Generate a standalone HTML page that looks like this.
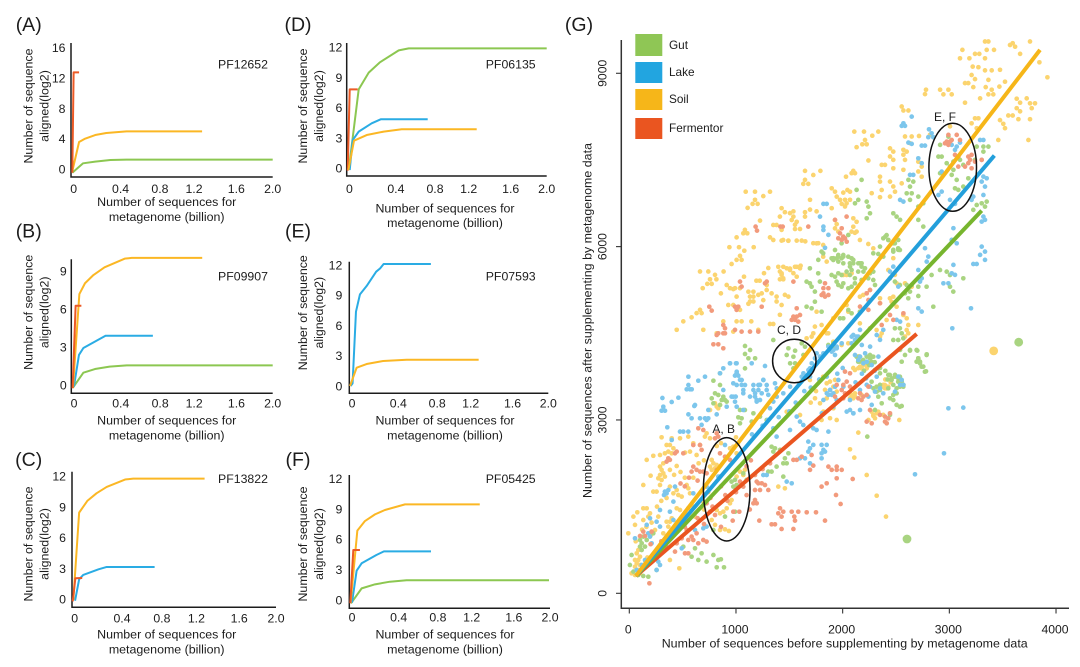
<!DOCTYPE html>
<html lang="en">
<head>
<meta charset="utf-8">
<title>Rarefaction curves and supplementing scatter</title>
<style>
html,body{margin:0;padding:0;background:#fff;width:1080px;height:667px;overflow:hidden}
svg{display:block;font-family:"Liberation Sans",sans-serif;fill:#222;filter:blur(.35px)}
text{fill:#1c1c1c}
</style>
</head>
<body>
<svg id="figure" xmlns="http://www.w3.org/2000/svg" width="1080" height="667" viewBox="0 0 1080 667">
  <rect width="1080" height="667" fill="#fff"/>
  <g id="panels"></g>
  <g id="scatter">
    <text x="579" y="31" font-size="19.5" text-anchor="middle">(G)</text>
    <g id="scatter-points"></g>
    <g id="fit-lines"></g>
    <g id="scatter-axes"></g>
    <ellipse cx="952.7" cy="167.3" rx="23.8" ry="44" fill="none" stroke="#111" stroke-width="1.5"/>
    <ellipse cx="794.3" cy="361" rx="21.7" ry="21.7" fill="none" stroke="#111" stroke-width="1.5"/>
    <ellipse cx="726.7" cy="489.3" rx="23.3" ry="51.7" fill="none" stroke="#111" stroke-width="1.5"/>
    <text x="945" y="121" font-size="12" text-anchor="middle">E, F</text>
    <text x="789" y="334" font-size="12" text-anchor="middle">C, D</text>
    <text x="723.7" y="433" font-size="12" text-anchor="middle">A, B</text>
    <text x="844.7" y="647.5" font-size="12.4" text-anchor="middle" textLength="366">Number of sequences before supplementing by metagenome data</text>
    <text transform="translate(591.5,320.5) rotate(-90)" font-size="12.4" text-anchor="middle" textLength="355">Number of sequences after supplementing by metagenome data</text>
    <g>
      <g>
        <rect x="635.3" y="34" width="27" height="22" fill="#8fc655"/>
        <text x="669" y="49" font-size="11.8">Gut</text>
      </g>
      <g>
        <rect x="635.3" y="62" width="27" height="21" fill="#22a5e0"/>
        <text x="669" y="76" font-size="11.8">Lake</text>
      </g>
      <g>
        <rect x="635.3" y="89" width="27" height="21" fill="#f6b619"/>
        <text x="669" y="103" font-size="11.8">Soil</text>
      </g>
      <g>
        <rect x="635.3" y="118" width="27" height="21" fill="#ea5520"/>
        <text x="669" y="132" font-size="11.8">Fermentor</text>
      </g>
    </g>
  </g>
</svg>
<script>
// ---------- rarefaction curve data: [billion sequences, log2 aligned] ----------
const xTickValues=[0,0.4,0.8,1.2,1.6,2.0];
const xTickLabels=['0','0.4','0.8','1.2','1.6','2.0'];
const yTicksA=[0,4,8,12,16];
const yTicksBase=[0,3,6,9,12];
const yTicksB=[0,3,6,9];

const fermentorA=[[.013,-.5],[.026,12.75],[.08,12.75]];
const soilA=[[.013,-.3],[.08,3.56],[.14,4.0],[.24,4.48],[.35,4.75],[.55,4.97],[1.3,4.97]];
const gutA=[[.013,-.5],[.12,.75],[.24,.97],[.39,1.19],[.55,1.23],[2.0,1.23]];

const fermentorB=[[.013,-.26],[.043,6.26],[.1,6.26]];
const soilB=[[.017,-.13],[.08,7.18],[.136,8.03],[.22,8.68],[.33,9.29],[.53,9.97],[.6,10.03],[1.3,10.03]];
const lakeB=[[.026,-.13],[.076,2.37],[.12,2.92],[.27,3.58],[.34,3.89],[.81,3.89]];
const gutB=[[.017,-.2],[.12,.97],[.235,1.26],[.38,1.45],[.55,1.55],[2.0,1.55]];

const soilC=[[.013,-.06],[.07,8.44],[.15,9.58],[.24,10.32],[.34,10.94],[.52,11.66],[.6,11.75],[1.3,11.75]];
const lakeC=[[.03,-.13],[.07,1.95],[.11,2.37],[.26,2.92],[.34,3.15],[.81,3.15]];
const fermentorC=[[.007,-.2],[.033,2.05],[.1,2.08]];

const fermentorD=[[.01,-.23],[.03,7.83],[.11,7.83]];
const gutD=[[.02,-.17],[.12,7.83],[.22,9.49],[.33,10.5],[.52,11.7],[.62,11.9],[2.0,11.9]];
const lakeD=[[.03,-.17],[.06,2.8],[.12,3.64],[.25,4.46],[.34,4.86],[.81,4.86]];
const soilD=[[.017,-.17],[.073,2.74],[.2,3.3],[.37,3.64],[.55,3.87],[1.3,3.87]];

const lakeE=[[.013,0],[.033,.26],[.067,7.37],[.107,9.09],[.174,9.92],[.27,11.34],[.31,11.67],[.345,12.1],[.82,12.1]];
const soilE=[[.007,0],[.074,1.82],[.174,2.18],[.34,2.48],[.576,2.61],[1.3,2.61]];

const soilF=[[.013,-.26],[.08,6.86],[.156,7.81],[.256,8.47],[.355,8.9],[.555,9.46],[1.3,9.46]];
const fermentorF=[[.01,-.33],[.04,4.95],[.106,4.95]];
const lakeF=[[.027,-.26],[.073,2.9],[.123,3.63],[.27,4.45],[.345,4.81],[.814,4.81]];
const gutF=[[.017,-.33],[.123,1.15],[.256,1.55],[.405,1.81],[.57,1.95],[1.99,1.95]];

// ---------- scatter data: [before, after] ----------
const scatterXTicks=[0,1000,2000,3000,4000];
const scatterYTicks=[0,3000,6000,9000];
const fitSoil=[[62,300],[3850,9405]];
const fitLake=[[62,300],[3422,7576]];
const fitGut=[[62,300],[3303,6624]];
const fitFermentor=[[62,300],[2694,4489]];
const largeGut=[[3650,4345],[2603,940]];
const largeSoil=[[3416,4195]];

const soilPoints=[[3366,9550],[3334,9550],[3594,9520],[3756,9550],[3616,9460],[3569,9490],[3350,9405],[3419,9405],[3122,9405],[3663,9335],[3100,9260],[3188,9260],[3241,9335],[3281,9335],[3334,9260],[3844,9190],[3219,9115],[3272,9105],[3475,9060],[3334,9050],[3397,9050],[3209,8970],[3241,8900],[3919,8930],[3366,8885],[3522,8855],[3147,8830],[3178,8830],[3225,8760],[3341,8760],[3469,8770],[3397,8715],[2781,8715],[2913,8715],[2991,8715],[2772,8640],[2944,8635],[3022,8635],[3366,8635],[3412,8635],[3288,8565],[3147,8490],[3631,8560],[3725,8565],[3663,8490],[3803,8480],[3756,8480],[2553,8425],[2569,8355],[2616,8355],[3631,8395],[3772,8395],[3663,8340],
[3241,8220],[3272,8220],[3209,8135],[3475,8190],[3506,8125],[3553,8270],[3594,8270],[3647,8205],[3756,8205],[3256,8050],[3522,8050],[3741,7845],[3459,7845],[3006,8080],[2109,7990],[2200,7990],[2334,7990],[2278,7920],[2209,7845],[2184,7770],[2225,7770],[2131,7720],[2584,7905],[2647,7905],[2716,7915],[2631,7790],[2819,7935],[2444,7700],[2569,7675],[2600,7645],[2475,7645],[2444,7560],[2569,7590],[2584,7500],[2241,7490],[2475,7500],[2366,7415],[2397,7415],[2569,7330],[2475,7355],[2709,7470],[2741,7385],[2709,7300],[2741,7210],[1647,7310],[1725,7240],[1791,7310],[1647,7155],[1631,7085],[1678,7085],[2100,7310],[2084,7270],[2116,7270],[2031,7210],[2350,7210],[2350,7125],[2366,6980],[2444,7125],[2475,7040],[2491,6950],[2444,6865],[2553,7095],
[1091,6950],[1178,6950],[1319,6950],[1256,6875],[1178,6810],[1156,6740],[1203,6740],[1109,6670],[1225,6450],[1897,7010],[1928,6950],[1944,6865],[2006,6935],[2044,6980],[2069,6950],[1975,6810],[2022,6810],[2069,6810],[1991,6740],[2037,6750],[2022,6695],[2272,6925],[2350,6855],[1694,6810],[1897,6665],[1428,6665],[1459,6595],[1412,6520],[1538,6610],[1506,6580],[1538,6520],[1522,6460],[1569,6430],[1553,6380],[1647,6595],[1694,6640],[1756,6610],[1647,6520],[1350,6375],[1381,6375],[1428,6290],[1553,6305],[1600,6305],[1084,6290],[1069,6230],[1106,6230],[1006,6160],[1319,6160],[1350,6115],[1428,6105],[1491,6105],[1569,6105],[1616,6105],[1650,6090],[1725,6060],[1772,6060],[1928,6460],[1944,6390],[1928,6315],[1959,6260],[2100,6490],[2131,6430],[2100,6345],[2084,6260],[2131,6260],
[938,5990],[1028,5990],[1166,5990],[1078,5930],[1038,5840],[1006,5770],[1053,5770],[959,5700],[663,5570],[741,5570],[803,5510],[884,5570],[816,5435],[756,5435],[731,5355],[772,5355],[688,5280],[1075,5480],[975,5265],[1397,5650],[1444,5650],[1506,5620],[1569,5650],[1606,5670],[1303,5630],[1412,5570],[1428,5510],[1412,5435],[1444,5435],[1538,5540],[1569,5480],[1263,5540],[1191,5410],[1222,5410],[1288,5335],[913,5335],[944,5280],[991,5280],[1038,5280],[1116,5220],[1163,5220],[1209,5165],[1241,5190],[1288,5250],[1334,5190],[1131,5135],[1163,5135],[1131,5050],[1163,5050],[1116,5010],[859,5190],[1006,5135],[928,4990],[975,4990],[1381,5135],[1459,5165],[1491,5135],[1381,5050],[1428,4990],[1256,5075],[663,4905],[631,4850],[678,4850],[584,4775],[506,4705],[444,4560],[694,4560],[1038,4905],[881,4705],[1006,4705],[1053,4705],[1144,4705],[1319,4660],[1350,4660],[1412,4820],[819,4500],
[1443,6115],[1490,6100],[2115,6240],[2162,6115],[2240,6045],[2287,5970],[1756,6055],[1818,6028],[1818,5826],[1850,5740],[1475,5625],[1506,5596],[1553,5650],[1600,5625],[1428,5538],[1443,5451],[2475,5800],[2428,5596],[2490,5510],[2006,5509],[2037,5509],[2084,5538],[2256,5250],[2225,5192],[2162,5134],[2193,5163],[2350,5105],[2350,5019],[2443,5105],[2475,5134],[2459,5047],[2584,5365],[2647,5307],[2506,5365],[2506,4961],[2568,4817],[2600,4759],[2615,4644],[2600,4557],[2584,4442],[2615,4499],[2709,4644],[2162,4672],[2256,4586],[2318,4557],[2412,4730],[2037,4990],[2053,4874],[1912,4759],[1756,4874],[1803,4644],[1740,4615],[1662,4413],[1709,4442],[1865,4499],[1912,4355],[1990,4297],[2053,4326],[2162,3922],[2193,3951],[2178,3893],[2225,3893],[2115,3865],[2396,3605],[2412,3547],[2381,3576],[2428,3576],[2053,3461],[2084,3403],[2115,3461],[2178,3432],[1818,3749],[1693,3691],[1600,3086],[1475,3143],[2287,3086],[2334,3143],[2303,3028],[2271,3143],
[975,4529],[1209,4558],[1725,4500],[1850,4500],[2366,4500],[2350,4443],[2069,2492],[2109,2348],[2147,2781],[2225,2048],[2319,1690],[2406,1327],[2531,3000],[1944,3000],[1881,3030],[1803,3000],[1819,3144],[1913,3202],[2288,3069],[2241,3000],[2319,3115],[2381,3087],[2084,3433],[2116,3404],[2069,3375],[2100,3375],[1850,3635],[1881,3664],[1913,3577],[1928,3693],[1834,3520],[1944,3491],[1788,3289],[1741,3375],[1850,3375],[2178,3923],[2225,3952],[2147,3895],[2381,3606],[2413,3577],[2397,3548],[819,3231],[834,3202],[850,3260],[803,3289],[756,3173],
[303,2700],[350,2567],[397,2683],[475,2683],[553,2712],[600,2596],[381,2567],[413,2510],[366,2452],[397,2423],[163,2308],[225,2380],[288,2394],[334,2423],[444,2204],[522,2435],[569,2452],[631,2394],[663,2567],[709,2712],[725,2769],[756,2683],[288,2192],[319,2250],[303,2135],[319,2077],[288,2048],[334,2019],[303,1961],[272,1990],[381,2135],[200,2036],[131,1875],[288,1875],[256,1760],[225,1760],[381,1846],[444,1788],[413,1731],[459,1702],[491,1673],[538,1875],[553,1817],[569,1731],[444,1471],[475,1442],[553,1471],[522,1385],[616,1327],[772,2308],[788,2250],[756,2192],[803,2163],[772,2135],[819,2221],[131,1471],[163,1471],[75,1402],[194,1385],[178,1327],[38,1327],[-9,1038],[53,1183],[131,1269],[209,1223],[241,1096],[272,1327],[350,1240],[381,1240],[366,1154],[319,1038],[397,1298],
[84,750],[69,692],[100,634],[53,577],[84,577],[69,519],[100,490],[53,461],[84,404],[22,346],[53,317],[100,346],[381,577],[469,432],[881,1413],[850,1385],[819,1442],[913,1471],[944,1558],[959,1615],[850,1096],[897,1108],[934,1079],[803,1183],[772,1269],[975,2538],[944,2510],[1006,2423],[1038,2106],[1069,2048],[1084,2135],[1006,2019],[1397,1846],[1459,1817],
[420,2050],[480,2100],[520,2000],[600,2000],[650,2250],[700,2300],[820,2550],[860,2600],[600,1500],[680,1600],[700,1450],[740,1750],[260,1500],[300,1600],[350,1650],[160,1150],[200,1000],[120,1100],[60,900],[150,550],[170,620],[1000,2700],[2150,4100],[2100,3900],[2400,3700],[2450,3650],[1750,3500],[1700,3300]];

const gutPoints=[[2412,6200],[2381,6144],[2428,6115],[2490,6057],[2521,5971],[2475,5913],[2537,5942],[2287,5884],[2334,5873],[2053,6201],[1990,6057],[1928,5942],[1959,5855],[1896,5798],[1943,5798],[1990,5798],[1912,5769],[1959,5740],[2006,5855],[2053,5826],[2084,5798],[2068,5711],[2100,5711],[2162,5711],[1803,5913],[1818,5884],[1693,5625],[1771,5538],[1896,5509],[1928,5480],[1959,5538],[1990,5509],[2037,5567],[2068,5509],[2084,5596],[2115,5451],[2146,5567],[2178,5422],[1693,5365],[1709,5307],[1662,5394],[1740,5221],[1787,5394],[1943,5394],[1959,5336],[1990,5307],[2006,5365],[2053,5278],[2084,5307],[2115,5365],[2287,5422],[2287,5567],[2303,5336],[2256,5538],[2240,5451],[2209,5625],[2178,5711],[2443,5451],[2490,5394],[2537,5336],[2600,5336],[2631,5221],[2646,5336],[2709,5307],[2787,5307],[2834,5509],[2912,5596],[2975,5567],[3006,5509],[3131,5451],[3037,5221],[3006,5307],[2850,4961],[2709,5146],[2615,5105],[2584,5192],[1662,4961],[1709,4932],[1803,4874],[1740,5047],[1975,4759],[2006,4759],[2162,4874],[2053,4903],[2084,4846],
[2490,4586],[2537,4586],[2553,4499],[2475,4384],[2521,4384],[2568,4413],[2631,4211],[2693,4211],[2584,4124],[2553,4009],[2693,4009],[2725,4009],[2709,4067],[2740,3922],[2771,3836],[2787,4124],[2131,4095],[2162,4095],[2193,4038],[2256,4067],[2271,4009],[2240,3980],[2146,4009],[2287,4095],[2256,4124],[2334,3893],[2271,3663],[2443,3778],[2490,3749],[2537,3749],[2521,3663],[2459,3692],[2537,3576],[2568,3576],[2506,3461],[2318,3576],[2350,3518],[2334,3403],[2475,3345],[2537,3230],[1865,4297],[1912,4326],[1928,4240],
[1491,4240],[1554,4199],[1616,4326],[1647,4268],[1475,4124],[1538,4095],[1632,4124],[1507,3980],[1554,3980],[1538,3893],[1085,4280],[1132,4211],[1085,4142],[1116,4067],[1179,4067],[850,3807],[788,3680],[850,3605],[1350,4384],[1085,3893],[772,3374],[803,3461],[834,3432],[881,3403],[866,3345],[897,3345],[913,3317],[788,3288],[850,3259],
[1038,3173],[1084,3173],[1053,3029],[1022,3046],[1163,3115],[1225,3058],[1147,2971],[1288,3000],[1038,2942],[1334,2538],[1366,2510],[1413,2481],[1350,2452],[1459,2337],[1475,2250],[1444,2250],[1491,2423],[1381,2192],[1444,2019],[1303,2106],[1334,2106],[959,1933],[991,1962],[1006,1875],[975,1846],[1069,2077],[1100,1962],[850,2019],[991,1413],[897,1327],[788,1096],[788,663],[834,577],[859,588],[819,450],[888,450],[725,548],[678,692],[616,779],[584,634],[647,577],[506,807],[131,981],[100,923],[163,923],[116,865],[147,808],[100,808],[22,663],[6,490],[38,375],[178,288],[131,300],[84,317],[256,404],[116,750],[225,1038],
[2225,4096],[2147,4068],[2163,4010],[2241,3981],[2272,4096],[2303,3866],[2350,3808],[2428,3779],[2459,3721],[2491,3779],[2522,3721],[2553,3664],[2569,3606],[2475,3606],[2506,3548],[2428,3548],[2350,3606],[2288,3548],[2319,3490],[2444,3375],[2475,3433],[2366,3289],[2506,3260],[2553,3242],[2303,3173],[2444,3087],[2538,4212],[2631,4200],[2700,4200],[2788,4137],[2709,4068],[2725,3981],[2781,3842],[2756,3923],[2231,2712],
[2913,7760],[2991,7904],[2897,7558],[2928,7558],[3038,7472],[2975,7443],[3006,7385],[3038,7327],[3100,7500],[3131,7414],[3241,7500],[3256,7731],[3319,7731],[3366,7731],[3319,7645],[3069,7154],[3053,7010],[3084,6981],[3131,7039],[2913,7270],[3022,7241],[3178,7183],[2616,7154],[2662,7125],[2631,7039],[2600,6923],[2647,6923],[2631,6808],[2709,6865],[2756,6750],[2709,6692],[3256,6721],[3303,6750],[3350,6779],[3334,6693],[3225,6635],[2178,7154],[2131,6981],[2147,6808],[2116,6750],[2225,6779],[2241,6693],[2256,6577],[2225,6491],[2475,6577],[2506,6520],[2538,6462],[2709,6462],[2756,6346],[2400,6173],[2428,6115],[2475,6058],[2522,6115],[2350,6000],[2475,5943],[2522,5943],[2381,5827],[1772,5770],[1913,5799],[1959,5827],[2006,5827],[2100,5770],[2147,5712],[2178,5654],[2194,5568],[2069,5654],[2006,5712],
[2200,4000],[2250,3950],[2300,4000],[2350,3900],[2400,3850],[2420,3700],[2200,3850]];

const lakePoints=[[944,3980],[1006,3980],[1147,3980],[1272,3934],[554,3749],[710,3749],[647,3680],[554,3605],[569,3530],[538,3530],[585,3530],[1007,3836],[991,3767],[1022,3767],[1054,3692],[1007,3605],[1085,3605],[1069,3519],[460,3386],[397,3311],[310,3380],[319,3230],[303,3161],[335,3161],[1163,3605],[1210,3605],[1257,3692],[1288,3605],[1210,3519],[1179,3461],[1194,3345],[1241,3461],[1288,3519],[1366,3634],[1382,3547],[975,3403],[913,3230],[991,3316],[1069,3172],[1007,3230],[616,3259],[554,3097],[741,3172],[819,3097],[710,3028],[1444,3461],[1382,3403],[1507,3576],[1616,3749],[1679,3865],[1694,3749],[1632,3807],[1710,3980],[1694,3894],[1741,4067],[1788,4096],[1819,4153],[1944,4269],[1991,4326],[1913,4211],[2085,4442],[2116,4384],[2132,4442],[2179,4297],[2163,4096],[2210,4153],[2257,4269],[2226,4009],[2272,3951],[2335,4096],[2116,4124],[2147,4038],[2194,3980],[2319,3749],[1960,3691],[1882,3518],[1929,3576],[1851,3461],[1819,3345],[1944,3345],[2007,3576],[2069,3345],[1913,3230],[1804,3115],[2101,3115],[2163,3172],
[850,3808],[944,3981],[1000,3981],[881,3894],[1006,3808],[1038,3693],[1053,3606],[975,3635],[609,3242],[584,3029],[663,3029],[725,3000],[678,2914],[741,3029],[356,2873],[475,2798],[506,2798],[553,2798],[397,2654],[959,3404],[997,3404],[881,3519],[1069,3462],[1163,3519],[1225,3606],[1256,3693],[1178,3404],[1131,3404],[1194,3317],[1225,3346],[1303,3433],[1319,3202],[1350,3317],
[1569,3058],[1600,2971],[1631,2913],[1506,2827],[1381,2712],[1350,2856],[1725,2856],[1756,2827],[1803,2568],[1850,2568],[1819,2481],[1866,2798],[1803,2423],[1803,2337],[1834,2452],[1678,2625],[1725,2568],[1694,2510],[1678,2452],[1600,2337],[1647,2337],[1694,2250],[1475,1933],[1522,1904],[1288,2048],[1256,2048],[897,2567],[834,2019],[600,1731],[725,1846],[350,1731],[334,1760],[366,1788],[325,1702],[413,1587],[381,1413],[428,1846],[288,1442],[256,1240],[288,1154],[194,1298],[163,1183],[178,1038],[53,952],[209,865],[194,981],[272,548],[256,404],[288,490],[69,404],[116,490],[147,577],[413,1269],[475,1154],[694,1125],[725,1154],[491,779],[616,1096],[725,1356],
[2991,3202],[3131,3214],[2950,2423],[2678,2060],[3028,4587],[3203,4933],[2256,3577],[2303,3491],[2241,3404],[2272,3260],[2069,3173],[2038,3144],[2100,3115],[2225,3606],[2163,3519],[1881,3519],[1913,3462],[1866,3433],[1897,3433],[2522,3750],[2553,3693],[2538,3606],[2569,3606],[2491,3491],[2350,3548],[2381,3462],[2100,4471],[2147,4443],[2084,4327],[1944,4241],[1897,4183],[1928,4125],[1819,4125],[1756,4154],[1866,4270],[2163,4558],[2381,4558],[2319,4471],[2350,4385],
[2569,8135],[2553,8089],[2584,8089],[2647,8250],[2809,8031],[2834,7962],[2850,7893],[2803,7893],[2616,7800],[2647,7777],[2741,7748],[2772,7748],[2709,7529],[2741,7443],[2631,7241],[2662,7241],[3069,7731],[3100,7800],[3022,7760],[3053,7674],[3288,7846],[3319,7846],[3303,7500],[3319,7212],[3350,7183],[3303,7125],[3334,7039],[3319,6894],[3225,6866],[3209,6808],[2928,7298],[2928,6952],[2897,6894],[3006,6808],[3053,6740],[2538,6808],[2569,6779],[3319,6519],[3303,6433],[3334,6462],[3038,6318],[3022,6116],[3069,6058],[3303,6000],[3334,5914],[3288,5856],[3334,5770],[3225,5700],[3256,5700],[2772,5972],[2803,5827],[2788,5740],[2709,5596],[2741,5452],[2725,5394],[2944,5365],[2991,5365],[3038,5683],[3022,5538],[3053,5510],[2475,5654],[2444,5568],[2522,5308],[2709,4933],[2741,4875],[2506,4731],[2538,4702],[1819,6740],[1850,6740],[1788,6520],[1819,6346],[1819,6288],[1866,6202],[1834,5980],
[2300,3850],[2180,3800],[2220,3720],[2120,3650],[1950,3800],[2000,3900],[1850,3750],[1780,3700],[1700,3560],[1640,3500],[1560,3300],[1500,3150],[1400,3050],[1300,3000],[1250,2900],[1150,2750]];

const fermentorPoints=[[2975,7818],[3006,7818],[2991,7760],[2959,7789],[3022,7846],[3100,7846],[3069,7933],[2991,7933],[3053,7587],[3084,7558],[3178,7558],[3209,7587],[3194,7500],[3178,7443],[3241,7472],[3303,7500],[3084,7385],[3147,7385],[3209,7356],[1991,6317],[1975,6231],[2006,6173],[1959,6144],[1991,6116],[2022,6144],[2038,6086],[1928,6462],[2037,6520],[1184,6346],[1197,6277],[1416,6346],[1438,6346],[1678,6346],[1038,5394],[1053,5308],[1288,5394],[1538,5394],[1272,5365],[1834,5365],[1819,5280],[1866,5280],[1819,5192],[1866,5163],[1834,5135],[1803,5163],[750,4961],[772,4892],[991,4961],[1022,4961],[1006,4904],[1241,4961],[1569,4933],[1538,4788],[1569,4788],[1600,4817],[1522,4731],[1553,4731],[1584,4702],[881,4644],[897,4587],[834,4500],[881,4500],[991,4558],[1053,4529],[1131,4529],[1209,4529],[2256,5250],[2225,5192],[2163,4962],[2241,5077],[2241,4904],[2350,5020],[2444,4817],[2366,4644],[2475,4731],[2569,4846],
[788,4310],[834,4310],[881,4241],[819,4471],[897,4500],[694,2827],[819,2769],[834,2712],[803,2683],[647,2856],[444,2452],[366,2337],[350,2279],[381,2308],[428,2423],[506,2423],[600,2567],[663,2567],[678,2481],[600,2192],[631,2135],[663,2106],[694,2106],[584,2106],[725,2077],[850,2423],[897,2365],[944,2308],[819,2135],[1178,2048],[1209,1904],[1241,1904],[1272,1875],[1194,1933],[1178,1788],[1225,1788],[1303,1788],[1038,1933],[1069,1846],[1163,1558],[1194,1558],[1178,1615],[1413,1471],[1397,1385],[1428,1327],[1444,1413],[1522,1413],[1584,1413],[1663,1402],[1750,1402],[1547,1327],[1553,1258],[1834,1258],[1219,1258],[1334,1194],[1366,1194],[1428,1113],[1538,1113],[975,1413],[1031,1413],[969,1258],[803,1356],[725,1558],[756,1413],[538,1096],[584,981],[631,1039],[491,952],[553,923],[600,923],[522,692],[553,692],[444,865],[428,721],[694,923],[725,894],[647,865],[100,992],[147,992],[209,1067],[131,1067],[188,173],[1538,2308],[1569,2308],[1616,2365],[1709,2394],[1725,2210],[1694,2135],[1866,2192],[1944,2192],[1897,2135],[1944,2135],[1991,2135],[1944,1990],[2094,1979],[1850,1904],[1803,1846],[1938,1702],[1981,1546],[2022,3837],[2069,3808],[2006,3606],[2038,3664],[2069,3577],[1991,3519],[2022,3462],[1944,3606],[1928,3404],[2006,3375],[2163,3462],[2194,3404],[2225,3433],[2178,3346],[2241,3577],[2147,3375],[2350,3087],[2397,3058],[2444,3115],[2428,3029],[2397,2971],[2256,3173],[2225,2971],[2272,2942],[2413,2942],
[480,1900],[520,1850],[560,2000],[640,1950],[700,1700],[760,1650],[860,1850],[900,1700],[920,1600],[1000,1750],[1100,2200],[1140,2300],[1250,2150],[1320,2250],[640,1300],[700,1200],[780,1500],[860,1150],[520,1150],[430,1050],[300,900],[350,800],[260,700],[200,850],[1100,1700],[1130,1450]];

// ---------- helpers ----------
const NS='http://www.w3.org/2000/svg';
function make(tag,parent,attrs){
  const node=document.createElementNS(NS,tag);
  for(const k in attrs) node.setAttribute(k,attrs[k]);
  parent.appendChild(node);
  return node;
}
function addText(parent,x,y,str,size,anchor,rot){
  const attrs={'font-size':size,'text-anchor':anchor};
  if(rot){attrs.transform='translate('+x+','+y+') rotate(-90)';}
  else{attrs.x=x;attrs.y=y;}
  const t=make('text',parent,attrs);
  t.textContent=str;
  return t;
}

// ---------- small-multiple panels ----------
const colors={gut:'#8cc751',lake:'#2aace4',soil:'#fbb724',fermentor:'#ec5a26'};
const labelNudge=[2.7,9.2,8.3,2,4,0]; // the figure's tick labels are hand placed
const panelLayouts=[
 {k:'a',letter:'(A)',lx:28.7,ly:31,pf:'PF12652',pfx:243,pfy:68.3,ax:71,top:43,bot:177,right:272.7,y0:169,ppu:7.58,yTicks:yTicksA,tickEnd:65.5,tickY:193,t1:206,t2:221,tc:166.7,yt1:32.5,yt2:48.5,ytc:106,
  series:[['gut',gutA],['soil',soilA],['fermentor',fermentorA]]},
 {k:'b',letter:'(B)',lx:28.7,ly:237.5,pf:'PF09907',pfx:243,pfy:280.3,ax:71.3,top:259.3,bot:393.3,right:272.7,y0:385,ppu:12.67,yTicks:yTicksB,tickEnd:66.7,tickY:407.5,t1:424.3,t2:439.3,tc:166.7,yt1:32.5,yt2:48.5,ytc:312.3,
  series:[['gut',gutB],['lake',lakeB],['soil',soilB],['fermentor',fermentorB]]},
 {k:'c',letter:'(C)',lx:28.7,ly:466,pf:'PF13822',pfx:243,pfy:483,ax:72,top:471.7,bot:607.3,right:276,y0:599.3,ppu:10.27,yTicks:yTicksBase,tickEnd:66,tickY:622.5,t1:638.3,t2:653.3,tc:166.7,yt1:32.5,yt2:48.5,ytc:544,
  series:[['lake',lakeC],['soil',soilC],['fermentor',fermentorC]]},
 {k:'d',letter:'(D)',lx:298,ly:31,pf:'PF06135',pfx:510.7,pfy:68.3,ax:346.7,top:43,bot:176,right:546.7,y0:168.3,ppu:10.08,yTicks:yTicksBase,tickEnd:342.3,tickY:193,t1:212.5,t2:227,tc:445,yt1:307,yt2:323,ytc:106,
  series:[['fermentor',fermentorD],['gut',gutD],['lake',lakeD],['soil',soilD]]},
 {k:'e',letter:'(E)',lx:298,ly:237.5,pf:'PF07593',pfx:510.7,pfy:280.3,ax:349.3,top:261.7,bot:393.3,right:548.3,y0:386,ppu:10.08,yTicks:yTicksBase,tickEnd:342.3,tickY:407.5,t1:424.3,t2:439.3,tc:445,yt1:307,yt2:323,ytc:312.7,
  series:[['lake',lakeE],['soil',soilE]]},
 {k:'f',letter:'(F)',lx:298,ly:466,pf:'PF05425',pfx:510.7,pfy:483,ax:349.3,top:475,bot:608.3,right:550,y0:600,ppu:10.11,yTicks:yTicksBase,tickEnd:342.3,tickY:621.5,t1:638.3,t2:653.3,tc:445,yt1:307,yt2:323,ytc:544,
  series:[['gut',gutF],['lake',lakeF],['soil',soilF],['fermentor',fermentorF]]}
];
const panelRoot=document.getElementById('panels');
panelLayouts.forEach(function(p){
  const g=make('g',panelRoot,{});
  
  
  const sx=function(v){return p.ax+v*(p.right-p.ax)/2;};
  const sy=function(v){return p.y0-v*p.ppu;};

  const letter=addText(g,p.lx,p.ly,p.letter,19.5,'middle');
  
  

  const axis=make('path',g,{d:'M'+p.ax+' '+p.top+'V'+p.bot+'H'+p.right,fill:'none',stroke:'#1c1c1c',"stroke-width":1.5});
  
  

  p.series.forEach(function(s){
    const pts=s[1].map(function(d){return sx(d[0]).toFixed(2)+','+sy(d[1]).toFixed(2);}).join(' ');
    const line=make('polyline',g,{points:pts,fill:'none',stroke:colors[s[0]],"stroke-width":2,"stroke-linejoin":'round'});
    
    
  });

  p.yTicks.forEach(function(v){
    const t=addText(g,p.tickEnd,sy(v)+4.4,String(v),12.3,'end');
    
    
  });
  xTickValues.forEach(function(v,i){
    const t=addText(g,sx(v)+labelNudge[i],p.tickY,xTickLabels[i],12.3,'middle');
    
    
  });

  const xt1=addText(g,p.tc,p.t1,'Number of sequences for',12.4,'middle');
  
  
  const xt2=addText(g,p.tc,p.t2,'metagenome (billion)',12.4,'middle');
  
  
  const yt1=addText(g,p.yt1,p.ytc,'Number of sequence',12.4,'middle',true);
  
  
  const yt2=addText(g,p.yt2,p.ytc,'aligned(log2)',12.4,'middle',true);
  
  
  const pf=addText(g,p.pfx,p.pfy,p.pf,12.3,'middle');
  
  
});

// ---------- scatter panel ----------
const mx=function(v){return 629.3+v*0.10668;};
const my=function(v){return 593.3-v*0.05778;};
const ptsRoot=document.getElementById('scatter-points');
const ptColors={soil:'#fbd46f',gut:'#a9d481',lake:'#7cc6ec',fermentor:'#f29a7c'};
function drawPoints(list,kind,r){
  list.forEach(function(d){
    const c=make('circle',ptsRoot,{cx:mx(d[0]).toFixed(1),cy:my(d[1]).toFixed(1),r:r,fill:ptColors[kind]});
    
    
  });
}
drawPoints(soilPoints,'soil',2.35);
drawPoints(gutPoints,'gut',2.35);
drawPoints(lakePoints,'lake',2.35);
drawPoints(fermentorPoints,'fermentor',2.35);
drawPoints(largeGut,'gut',4.4);
drawPoints(largeSoil,'soil',4.4);

const fitRoot=document.getElementById('fit-lines');
[['fermentor',fitFermentor,'#ea5520'],['gut',fitGut,'#77b52e'],['lake',fitLake,'#239fdb'],['soil',fitSoil,'#f6b619']].forEach(function(s){
  const l=make('line',fitRoot,{x1:mx(s[1][0][0]),y1:my(s[1][0][1]),x2:mx(s[1][1][0]),y2:my(s[1][1][1]),stroke:s[2],"stroke-width":4});
  
  
});

const axRoot=document.getElementById('scatter-axes');
const axisPath=make('path',axRoot,{d:'M621.3 40V608.3H1069',fill:'none',stroke:'#333',"stroke-width":1.5});


scatterXTicks.forEach(function(v){
  const tick=make('line',axRoot,{x1:mx(v),x2:mx(v),y1:608.3,y2:613.5,stroke:'#333',"stroke-width":1.1});
  
  
  const t=addText(axRoot,mx(v)-1,633.5,String(v),12.2,'middle');
  
  
});
scatterYTicks.forEach(function(v){
  const tick=make('line',axRoot,{x1:621.3,x2:616,y1:my(v),y2:my(v),stroke:'#333',"stroke-width":1.1});
  
  
  const t=addText(axRoot,606.5,my(v),String(v),12.2,'middle',true);
  
  
});
</script>
</body>
</html>
